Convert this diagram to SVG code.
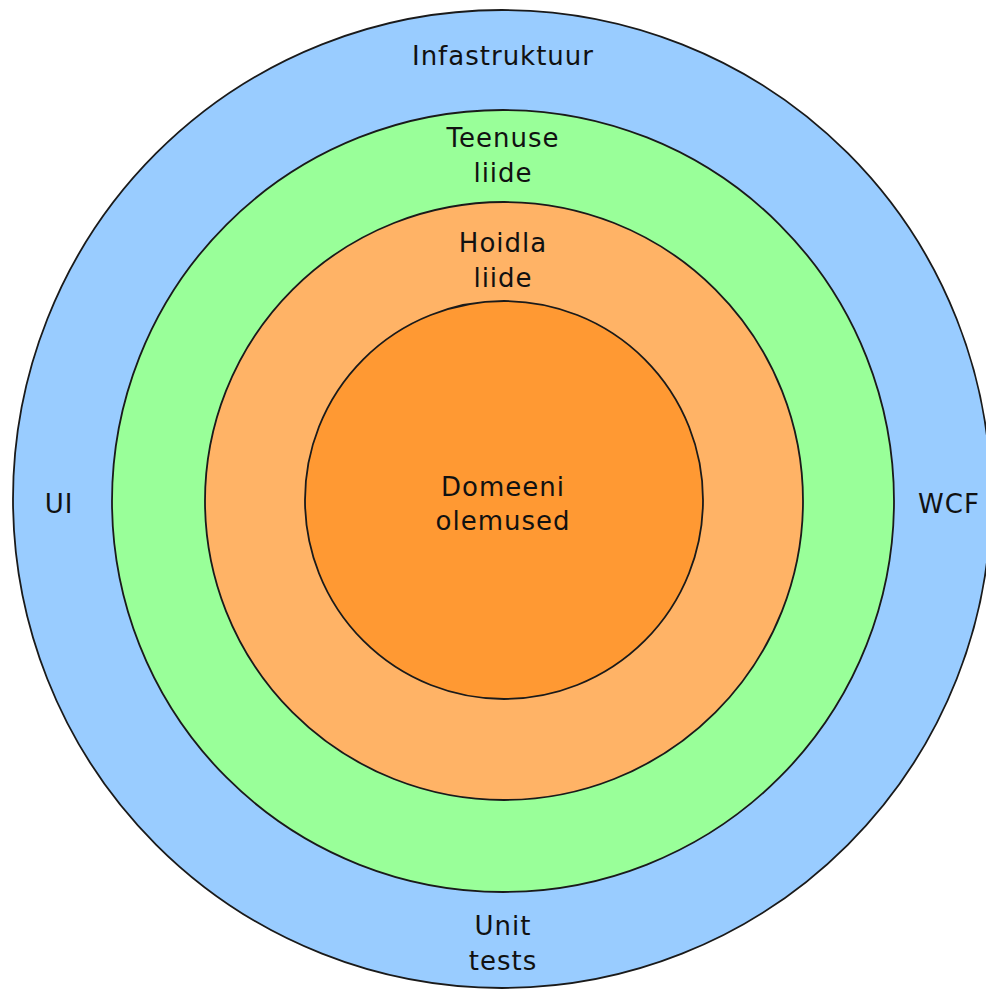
<svg xmlns="http://www.w3.org/2000/svg" width="986" height="990" viewBox="0 0 986 990">
  <style>
    .ring { stroke: #1a1a1a; stroke-width: 1.8; }
    .label { font-family: "Comic Sans MS", "DejaVu Sans", sans-serif; font-size: 26px; letter-spacing: 1px; fill: #111; text-anchor: middle; }
  </style>
  <rect width="986" height="990" fill="#ffffff"/>

  <!-- Outer layer: infrastructure -->
  <g id="infastruktuur">
    <circle class="ring" cx="502" cy="499" r="489" fill="#99ccff"/>
    <text class="label" x="503" y="65" letter-spacing="2">Infastruktuur</text>
    <text class="label" x="59" y="513" letter-spacing="3">UI</text>
    <text class="label" x="949" y="513" letter-spacing="2">WCF</text>
    <text class="label" x="503" y="935">Unit</text>
    <text class="label" x="503" y="970">tests</text>
  </g>

  <!-- Service interface layer -->
  <g id="teenuse-liide">
    <circle class="ring" cx="503" cy="501" r="391" fill="#99ff99"/>
    <text class="label" x="503" y="147">Teenuse</text>
    <text class="label" x="503" y="182">liide</text>
  </g>

  <!-- Repository interface layer -->
  <g id="hoidla-liide">
    <circle class="ring" cx="504" cy="501" r="299" fill="#ffb366"/>
    <text class="label" x="503" y="252">Hoidla</text>
    <text class="label" x="503" y="287">liide</text>
  </g>

  <!-- Core: domain entities -->
  <g id="domeeni-olemused">
    <circle class="ring" cx="504" cy="500" r="199" fill="#ff9933"/>
    <text class="label" x="503" y="496">Domeeni</text>
    <text class="label" x="503" y="530">olemused</text>
  </g>

  <g id="connectors"/>
</svg>
